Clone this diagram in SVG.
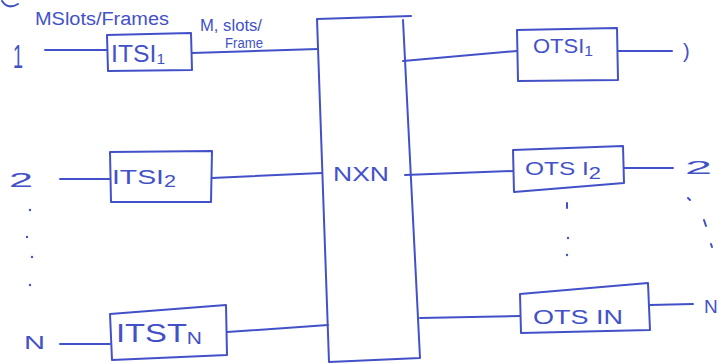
<svg xmlns="http://www.w3.org/2000/svg" width="722" height="364" viewBox="0 0 722 364">
<style>
.ink{fill:none;stroke:#4351c9;stroke-width:2;stroke-linecap:round;stroke-linejoin:round}
text{font-family:"Liberation Sans","DejaVu Sans",sans-serif;fill:#4351c9}
.dot{fill:#4351c9}
</style>
<rect width="722" height="364" fill="#ffffff"/>
<path class="ink" d="M2,1 Q8,10 18,4"/>
<g id="inputs">
  <text x="13" y="68" style="font-size:34px" textLength="10" lengthAdjust="spacingAndGlyphs">1</text>
  <text x="9" y="187" style="font-size:20px" textLength="24" lengthAdjust="spacingAndGlyphs">2</text>
  <text x="24" y="349" style="font-size:18px" textLength="21" lengthAdjust="spacingAndGlyphs">N</text>
  <circle class="dot" cx="30" cy="210" r="1.2"/>
  <circle class="dot" cx="27" cy="237" r="1.2"/>
  <circle class="dot" cx="32" cy="257" r="1.2"/>
  <circle class="dot" cx="30" cy="285" r="1.2"/>
</g>
<g id="labels">
  <text x="35" y="25" style="font-size:18px" textLength="134" lengthAdjust="spacingAndGlyphs">MSlots/Frames</text>
  <text x="200" y="31" style="font-size:17px" textLength="62" lengthAdjust="spacingAndGlyphs">M, slots/</text>
  <text x="225" y="48" style="font-size:14px" textLength="38" lengthAdjust="spacingAndGlyphs">Frame</text>
</g>
<g id="itsi1">
  <path class="ink" d="M107,35 L191,33 L192,70 L108,71 Z"/>
  <text x="111" y="62" style="font-size:24px" textLength="54" lengthAdjust="spacingAndGlyphs">ITSI<tspan style="font-size:15px" dy="2">1</tspan></text>
</g>
<g id="itsi2">
  <path class="ink" d="M110,152 L212,151 L211,202 L111,202 Z"/>
  <text x="112" y="184" style="font-size:21px" textLength="64" lengthAdjust="spacingAndGlyphs">ITSI<tspan style="font-size:16px" dy="3">2</tspan></text>
</g>
<g id="itsiN">
  <path class="ink" d="M110,314 L226,305 L227,355 L112,360 Z"/>
  <text x="116" y="342" style="font-size:25px" textLength="86" lengthAdjust="spacingAndGlyphs">ITST<tspan style="font-size:16px" dy="2">N</tspan></text>
</g>
<g id="switch">
  <path class="ink" d="M317,19 L411,16 M317,19 L329,362 L420,358 L403,20"/>
  <text x="333" y="181" style="font-size:21px" textLength="56" lengthAdjust="spacingAndGlyphs">NXN</text>
</g>
<g id="otsi1">
  <path class="ink" d="M517,30 L617,28 L618,80 L518,81 Z"/>
  <text x="533" y="53" style="font-size:21px" textLength="60" lengthAdjust="spacingAndGlyphs">OTSI<tspan style="font-size:15px" dy="3">1</tspan></text>
</g>
<g id="otsi2">
  <path class="ink" d="M513,150 L623,146 L624,183 L514,192 Z"/>
  <text x="525" y="175" style="font-size:19px" textLength="76" lengthAdjust="spacingAndGlyphs">OTS I<tspan style="font-size:17px" dy="4">2</tspan></text>
</g>
<g id="otsiN">
  <path class="ink" d="M520,294 L648,283 L650,330 L521,333 Z"/>
  <text x="533" y="324" style="font-size:20px" textLength="90" lengthAdjust="spacingAndGlyphs">OTS IN</text>
</g>
<g id="outputs">
  <text x="683" y="58" style="font-size:20px">)</text>
  <text x="685" y="174" style="font-size:18px" textLength="27" lengthAdjust="spacingAndGlyphs">2</text>
  <text x="704" y="313" style="font-size:19px">N</text>
  <path class="ink" d="M688,198 L690,200 M704,220 L706,226 M711,244 L712,247"/>
  <path class="ink" d="M567,203 L567,208"/>
  <circle class="dot" cx="568" cy="238" r="1.2"/>
  <circle class="dot" cx="567" cy="255" r="1.2"/>
</g>
<g id="connectors">
  <path class="ink" d="M45,50 L107,50"/>
  <path class="ink" d="M192,53 L318,49"/>
  <path class="ink" d="M60,179 L110,179"/>
  <path class="ink" d="M212,178 L322,173"/>
  <path class="ink" d="M60,344 L110,344"/>
  <path class="ink" d="M227,332 L328,325"/>
  <path class="ink" d="M403,61 L517,51"/>
  <path class="ink" d="M618,51 L672,51"/>
  <path class="ink" d="M405,175 L513,171"/>
  <path class="ink" d="M624,168 L673,168"/>
  <path class="ink" d="M420,318 L520,316"/>
  <path class="ink" d="M650,305 L693,304"/>
</g>
</svg>
